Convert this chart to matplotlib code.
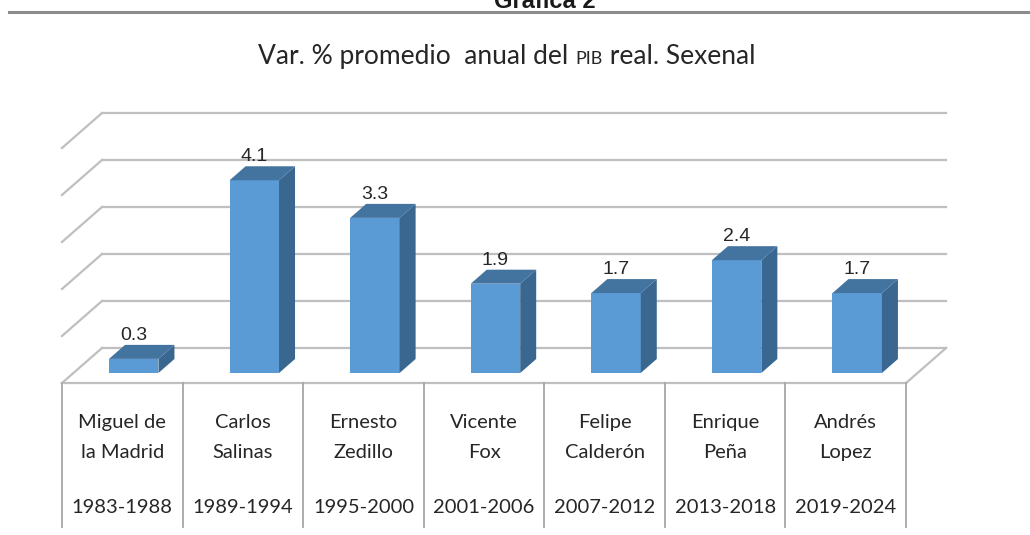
import numpy as np
import matplotlib
matplotlib.use('Agg')
import matplotlib.pyplot as plt
from matplotlib.patches import Polygon
from matplotlib.offsetbox import TextArea, HPacker, AnchoredOffsetbox

nombres = ['Miguel de\nla Madrid', 'Carlos\nSalinas', 'Ernesto\nZedillo', 'Vicente\nFox',
           'Felipe\nCalderón', 'Enrique\nPeña', 'Andrés\nLopez']
periodos = ['1983-1988', '1989-1994', '1995-2000', '2001-2006',
            '2007-2012', '2013-2018', '2019-2024']
pib = [0.3, 4.1, 3.3, 1.9, 1.7, 2.4, 1.7]
niveles = [0, 1, 2, 3, 4, 5]

fuente = ['Lato', 'DejaVu Sans']
plt.rcParams['font.family'] = fuente

# proyeccion "3D" estilo Excel, en unidades de datos
dx, dy = 0.332, 0.745      # profundidad total del piso
f0, f1 = 0.286, 0.686      # posicion frontal/trasera de las barras
y_front = -0.213           # borde frontal del piso
ancho = 0.41
grid_c = '#BFBFBF'

fig = plt.figure(figsize=(10.3, 5.35), dpi=100)
ax = fig.add_axes([0, 0, 1, 1])
ax.set_xlim(-1.014, 7.528)
ax.set_ylim(-3.447, 7.936)
ax.axis('off')

n = len(pib)
x0, x1 = -0.5, n - 0.5

# rejilla pared trasera y lateral
for v in niveles:
    yb = v + y_front + dy
    ax.plot([x0 + dx, x1 + dx], [yb, yb], color=grid_c, lw=1.6, zorder=1)
    ax.plot([x0, x0 + dx], [v + y_front, yb], color=grid_c, lw=1.6, zorder=1)
# piso
ax.plot([x0, x1, x1 + dx], [y_front, y_front, y_front + dy], color=grid_c, lw=1.6, zorder=1)

# barras
cf, cs, ct = '#5B9BD5', '#3A6790', '#43739F'
for i, v in enumerate(pib):
    xl = i - ancho / 2 + f0 * dx
    xr = xl + ancho
    yb = y_front + f0 * dy
    ddx, ddy = (f1 - f0) * dx, (f1 - f0) * dy
    ax.add_patch(Polygon([(xl, yb), (xr, yb), (xr, yb + v), (xl, yb + v)],
                         closed=True, fc=cf, ec='none', zorder=3))
    ax.add_patch(Polygon([(xr, yb), (xr + ddx, yb + ddy), (xr + ddx, yb + v + ddy), (xr, yb + v)],
                         closed=True, fc=cs, ec='none', zorder=3))
    ax.add_patch(Polygon([(xl, yb + v), (xr, yb + v), (xr + ddx, yb + v + ddy), (xl + ddx, yb + v + ddy)],
                         closed=True, fc=ct, ec='none', zorder=3))
    ax.text((xl + xr) / 2, yb + v + ddy + 0.02, f'{v:.1f}', ha='center', va='bottom',
            fontsize=14, family=['Liberation Sans', 'DejaVu Sans'], color='#262626', zorder=4)

# tabla de categorias
y_tab = -3.277
for k in range(n + 1):
    ax.plot([x0 + k, x0 + k], [y_front, y_tab], color='#A6A6A6', lw=1.3, zorder=1)
for i in range(n):
    ax.text(i, -1.372, nombres[i], ha='center', va='center', fontsize=14.5,
            linespacing=1.95, color='#262626')
    ax.text(i, -2.872, periodos[i], ha='center', va='center', fontsize=14.5, color='#262626')

# encabezado cortado y linea superior
fig.text(0.529, 0.998, 'Gráfica 2', ha='center', va='center', fontsize=17,
         fontweight='bold', family=['Liberation Sans', 'DejaVu Sans'], color='#1a1a1a')
fig.add_artist(plt.Line2D([0.009, 1.0], [1 - 11.5 / 535, 1 - 11.5 / 535],
                          color='#8C8C8C', lw=2.2))

# subtitulo con "PIB" en versalitas
props = dict(color='#262626', family=fuente)
partes = [TextArea('Var. % promedio  anual del ', textprops=dict(fontsize=19, **props)),
          TextArea('PIB', textprops=dict(fontsize=13, **props)),
          TextArea(' real. Sexenal', textprops=dict(fontsize=19, **props))]
caja = HPacker(children=partes, align='baseline', pad=0, sep=0)
anch = AnchoredOffsetbox(loc='center', child=caja, frameon=False, pad=0,
                         bbox_to_anchor=(0.492, 1 - 57 / 535), bbox_transform=fig.transFigure)
fig.add_artist(anch)

fig.savefig('out.png', dpi=100)
